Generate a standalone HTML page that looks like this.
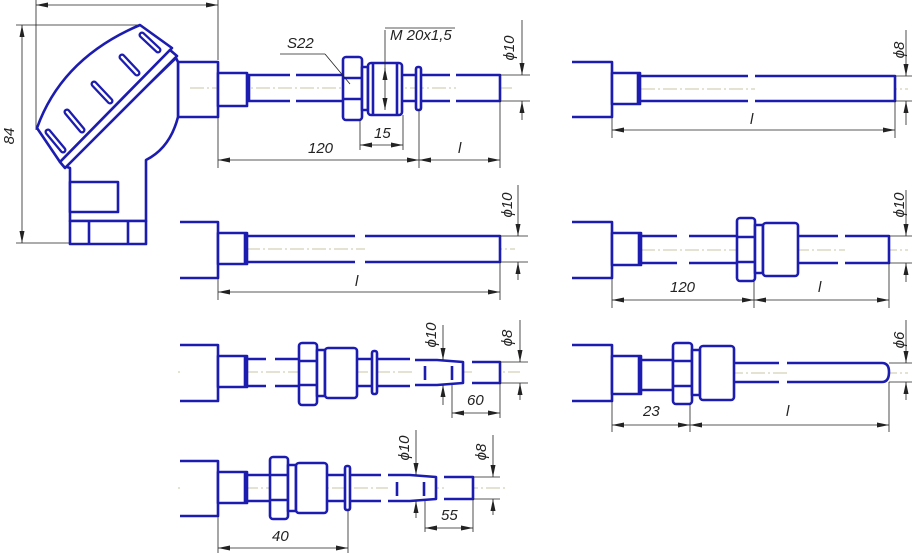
<!DOCTYPE html>
<html><head><meta charset="utf-8"><style>
html,body{margin:0;padding:0;background:#fff;}
svg{display:block}
.b{fill:#fff;stroke:#1c1cb0;stroke-width:2.6;stroke-linejoin:round}
.bn{fill:none;stroke:#1c1cb0;stroke-width:2.6}
.t{fill:none;stroke:#222;stroke-width:0.8}
.c{fill:none;stroke:#b9b38a;stroke-width:0.8;stroke-dasharray:14 3 2 3}
.sl{fill:none;stroke:#1c1cb0;stroke-width:7;stroke-linecap:round}
.sw{fill:none;stroke:#fff;stroke-width:2.4;stroke-linecap:round}
text{font-family:"Liberation Sans",sans-serif;font-style:italic;font-size:15px;fill:#222}
</style></head><body>
<svg width="912" height="557" viewBox="0 0 912 557" xmlns="http://www.w3.org/2000/svg">
<defs>
<marker id="a" viewBox="0 0 12 6" refX="12" refY="3" markerWidth="12" markerHeight="6" orient="auto-start-reverse" markerUnits="userSpaceOnUse"><path d="M0,0.5 L12,3 L0,5.5z" fill="#222"/></marker>
</defs>

<!-- ===== HEAD ===== -->
<line class="t" x1="36" y1="5" x2="218" y2="5" marker-start="url(#a)" marker-end="url(#a)"/>
<line class="t" x1="36" y1="0" x2="36" y2="130"/>
<line class="t" x1="218" y1="0" x2="218" y2="60"/>
<line class="t" x1="22" y1="25" x2="22" y2="243" marker-start="url(#a)" marker-end="url(#a)"/>
<line class="t" x1="16" y1="25" x2="140" y2="25"/>
<line class="t" x1="16" y1="243" x2="75" y2="243"/>
<text transform="translate(14,136) rotate(-90)" text-anchor="middle">84</text>
<rect class="b" x="178" y="62" width="40" height="55"/>
<path class="b" d="M176,58 L178,62 L178,117 Q170,148 146,160 L146,221 L70,221 L70,168 L64,166 Z"/>
<rect class="b" x="70" y="182" width="48" height="30"/>
<rect class="b" x="70" y="221" width="76" height="23"/>
<line class="bn" x1="89" y1="221" x2="89" y2="244"/><line class="bn" x1="128" y1="221" x2="128" y2="244"/>
<path class="b" d="M37,128 Q62,58 140,25 L172,48 L60,162 Z"/>
<path class="b" d="M60,162 L170,50 L177,56 L65,168 Z"/>
<g>
<path class="sl" d="M48,132 L63,150"/><path class="sw" d="M48,132 L63,150"/>
<path class="sl" d="M67,112 L82,130"/><path class="sw" d="M67,112 L82,130"/>
<path class="sl" d="M94,84 L110,101"/><path class="sw" d="M94,84 L110,101"/>
<path class="sl" d="M122,57 L137,73"/><path class="sw" d="M122,57 L137,73"/>
<path class="sl" d="M142,35 L158,50"/><path class="sw" d="M142,35 L158,50"/>
</g>

<!-- ===== ROW1 LEFT ===== -->
<line class="c" x1="190" y1="88" x2="515" y2="88"/>
<rect class="b" x="218" y="73" width="29" height="33"/>
<path class="b" d="M247,75 L290,75 M296,75 L343,75 M247,101 L290,101 M296,101 L343,101"/>
<line class="bn" x1="249" y1="75" x2="249" y2="101"/>
<rect class="b" x="343" y="57" width="19" height="63" rx="3"/>
<line class="bn" x1="343" y1="78" x2="362" y2="78"/><line class="bn" x1="343" y1="99" x2="362" y2="99"/>
<rect class="b" x="362" y="67" width="6" height="43"/>
<rect class="b" x="368" y="63" width="34" height="52" rx="3"/>
<line class="bn" x1="373" y1="63" x2="373" y2="115"/><line class="bn" x1="397" y1="63" x2="397" y2="115"/>
<path class="b" d="M402,75 L450,75 M456,75 L500,75 L500,101 L456,101 M450,101 L402,101"/>
<rect class="b" x="416" y="67" width="5" height="43" rx="2"/>
<line class="t" x1="385" y1="30" x2="385" y2="110" marker-end="url(#a)"/><line class="t" x1="385" y1="70" x2="385" y2="68" marker-end="url(#a)"/>
<line class="t" x1="385" y1="28" x2="455" y2="28"/>
<text x="390" y="40">M 20x1,5</text>
<line class="t" x1="280" y1="54" x2="325" y2="54"/><line class="t" x1="325" y1="54" x2="350" y2="84"/>
<text x="287" y="48">S22</text>
<line class="t" x1="360" y1="120" x2="360" y2="150"/><line class="t" x1="403" y1="115" x2="403" y2="150"/>
<line class="t" x1="360" y1="145" x2="403" y2="145" marker-start="url(#a)" marker-end="url(#a)"/>
<text x="374" y="138">15</text>
<line class="t" x1="218" y1="117" x2="218" y2="168"/><line class="t" x1="419" y1="110" x2="419" y2="168"/><line class="t" x1="500" y1="101" x2="500" y2="168"/>
<line class="t" x1="218" y1="160" x2="419" y2="160" marker-start="url(#a)" marker-end="url(#a)"/>
<line class="t" x1="419" y1="160" x2="500" y2="160" marker-start="url(#a)" marker-end="url(#a)"/>
<text x="308" y="153">120</text><text x="458" y="153">l</text>
<line class="t" x1="500" y1="75" x2="530" y2="75"/><line class="t" x1="500" y1="101" x2="530" y2="101"/>
<line class="t" x1="522" y1="20" x2="522" y2="75" marker-end="url(#a)"/><line class="t" x1="522" y1="120" x2="522" y2="101" marker-end="url(#a)"/>
<text transform="translate(514,48) rotate(-90)" text-anchor="middle">ϕ10</text>

<!-- ===== ROW1 RIGHT ===== -->
<line class="c" x1="575" y1="89" x2="908" y2="89"/>
<path class="b" d="M572,62 L612,62 L612,117 L572,117"/>
<rect class="b" x="612" y="73" width="28" height="31"/>
<line class="bn" x1="638" y1="73" x2="638" y2="104"/>
<path class="b" d="M640,76 L748,76 M755,76 L895,76 L895,101 L755,101 M748,101 L640,101"/>
<line class="t" x1="612" y1="117" x2="612" y2="138"/><line class="t" x1="895" y1="101" x2="895" y2="138"/>
<line class="t" x1="612" y1="130" x2="895" y2="130" marker-start="url(#a)" marker-end="url(#a)"/>
<text x="750" y="124">l</text>
<line class="t" x1="895" y1="76" x2="912" y2="76"/><line class="t" x1="895" y1="101" x2="912" y2="101"/>
<line class="t" x1="906" y1="30" x2="906" y2="76" marker-end="url(#a)"/><line class="t" x1="906" y1="125" x2="906" y2="101" marker-end="url(#a)"/>
<text transform="translate(904,50) rotate(-90)" text-anchor="middle">ϕ8</text>

<!-- ===== ROW2 LEFT ===== -->
<line class="c" x1="180" y1="249" x2="515" y2="249"/>
<path class="b" d="M180,222 L218,222 L218,278 L180,278"/>
<rect class="b" x="218" y="233" width="29" height="31"/>
<line class="bn" x1="245" y1="233" x2="245" y2="264"/>
<path class="b" d="M247,236 L355,236 M365,236 L500,236 L500,262 L365,262 M355,262 L247,262"/>
<line class="t" x1="218" y1="278" x2="218" y2="300"/><line class="t" x1="500" y1="262" x2="500" y2="300"/>
<line class="t" x1="218" y1="292" x2="500" y2="292" marker-start="url(#a)" marker-end="url(#a)"/>
<text x="355" y="286">l</text>
<line class="t" x1="500" y1="236" x2="528" y2="236"/><line class="t" x1="500" y1="262" x2="528" y2="262"/>
<line class="t" x1="518" y1="185" x2="518" y2="236" marker-end="url(#a)"/><line class="t" x1="518" y1="280" x2="518" y2="262" marker-end="url(#a)"/>
<text transform="translate(512,205) rotate(-90)" text-anchor="middle">ϕ10</text>

<!-- ===== ROW2 RIGHT ===== -->
<line class="c" x1="575" y1="250" x2="908" y2="250"/>
<path class="b" d="M572,222 L612,222 L612,278 L572,278"/>
<rect class="b" x="612" y="233" width="29" height="32"/>
<line class="bn" x1="639" y1="233" x2="639" y2="265"/>
<path class="b" d="M641,236 L677,236 M689,236 L737,236 M641,263 L677,263 M689,263 L737,263"/>
<rect class="b" x="737" y="218" width="18" height="63" rx="3"/>
<line class="bn" x1="737" y1="237" x2="755" y2="237"/><line class="bn" x1="737" y1="262" x2="755" y2="262"/>
<rect class="b" x="755" y="225" width="8" height="48"/>
<rect class="b" x="763" y="223" width="35" height="53" rx="3"/>
<path class="b" d="M798,236 L838,236 M845,236 L889,236 L889,263 L845,263 M838,263 L798,263"/>
<line class="t" x1="612" y1="278" x2="612" y2="308"/><line class="t" x1="754" y1="281" x2="754" y2="308"/><line class="t" x1="889" y1="263" x2="889" y2="308"/>
<line class="t" x1="612" y1="300" x2="754" y2="300" marker-start="url(#a)" marker-end="url(#a)"/>
<line class="t" x1="754" y1="300" x2="889" y2="300" marker-start="url(#a)" marker-end="url(#a)"/>
<text x="670" y="292">120</text><text x="818" y="292">l</text>
<line class="t" x1="889" y1="236" x2="912" y2="236"/><line class="t" x1="889" y1="263" x2="912" y2="263"/>
<line class="t" x1="906" y1="190" x2="906" y2="236" marker-end="url(#a)"/><line class="t" x1="906" y1="282" x2="906" y2="263" marker-end="url(#a)"/>
<text transform="translate(904,205) rotate(-90)" text-anchor="middle">ϕ10</text>

<!-- ===== ROW3 LEFT ===== -->
<line class="c" x1="178" y1="372" x2="520" y2="372"/>
<path class="b" d="M180,345 L218,345 L218,401 L180,401"/>
<rect class="b" x="218" y="356" width="29" height="31"/>
<line class="bn" x1="245" y1="356" x2="245" y2="387"/>
<path class="b" d="M247,359 L266,359 M275,359 L299,359 M247,386 L266,386 M275,386 L299,386"/>
<rect class="b" x="299" y="343" width="18" height="62" rx="3"/>
<line class="bn" x1="299" y1="361" x2="317" y2="361"/><line class="bn" x1="299" y1="385" x2="317" y2="385"/>
<rect class="b" x="317" y="350" width="8" height="46"/>
<rect class="b" x="325" y="348" width="32" height="50" rx="3"/>
<path class="b" d="M357,359 L410,359 M357,386 L410,386"/>
<rect class="b" x="372" y="351" width="5" height="43" rx="2"/>
<path class="b" d="M415,360 L437,360 L463,362 L463,383 L437,385 L415,385"/>
<line class="bn" x1="425" y1="366" x2="425" y2="380"/><line class="bn" x1="452" y1="366" x2="452" y2="380"/>
<path class="b" d="M472,362 L500,362 L500,383 L472,383"/>
<line class="t" x1="443" y1="325" x2="443" y2="360" marker-end="url(#a)"/><line class="t" x1="443" y1="405" x2="443" y2="385" marker-end="url(#a)"/>
<text transform="translate(436,335) rotate(-90)" text-anchor="middle">ϕ10</text>
<line class="t" x1="500" y1="362" x2="528" y2="362"/><line class="t" x1="500" y1="383" x2="528" y2="383"/>
<line class="t" x1="520" y1="320" x2="520" y2="362" marker-end="url(#a)"/><line class="t" x1="520" y1="400" x2="520" y2="383" marker-end="url(#a)"/>
<text transform="translate(512,338) rotate(-90)" text-anchor="middle">ϕ8</text>
<line class="t" x1="452" y1="385" x2="452" y2="418"/><line class="t" x1="500" y1="383" x2="500" y2="418"/>
<line class="t" x1="452" y1="413" x2="500" y2="413" marker-start="url(#a)" marker-end="url(#a)"/>
<text x="467" y="405">60</text>

<!-- ===== ROW3 RIGHT ===== -->
<line class="c" x1="575" y1="373" x2="908" y2="373"/>
<path class="b" d="M572,345 L612,345 L612,401 L572,401"/>
<rect class="b" x="612" y="356" width="29" height="38"/>
<line class="bn" x1="639" y1="356" x2="639" y2="394"/>
<rect class="b" x="641" y="360" width="32" height="30"/>
<rect class="b" x="673" y="343" width="19" height="61" rx="3"/>
<line class="bn" x1="673" y1="361" x2="692" y2="361"/><line class="bn" x1="673" y1="386" x2="692" y2="386"/>
<rect class="b" x="692" y="350" width="8" height="45"/>
<rect class="b" x="700" y="346" width="34" height="54" rx="3"/>
<path class="b" d="M734,363 L779,363 M787,363 L882,363 Q889,363 889,372 Q889,382 882,382 L787,382 M779,382 L734,382"/>
<line class="t" x1="612" y1="401" x2="612" y2="432"/><line class="t" x1="690" y1="404" x2="690" y2="432"/><line class="t" x1="889" y1="382" x2="889" y2="432"/>
<line class="t" x1="612" y1="425" x2="690" y2="425" marker-start="url(#a)" marker-end="url(#a)"/>
<line class="t" x1="690" y1="425" x2="889" y2="425" marker-start="url(#a)" marker-end="url(#a)"/>
<text x="643" y="416">23</text><text x="786" y="416">l</text>
<line class="t" x1="889" y1="363" x2="912" y2="363"/><line class="t" x1="889" y1="382" x2="912" y2="382"/>
<line class="t" x1="906" y1="320" x2="906" y2="363" marker-end="url(#a)"/><line class="t" x1="906" y1="400" x2="906" y2="382" marker-end="url(#a)"/>
<text transform="translate(904,340) rotate(-90)" text-anchor="middle">ϕ6</text>

<!-- ===== ROW4 ===== -->
<line class="c" x1="178" y1="488" x2="505" y2="488"/>
<path class="b" d="M180,461 L218,461 L218,516 L180,516"/>
<rect class="b" x="218" y="472" width="29" height="31"/>
<line class="bn" x1="245" y1="472" x2="245" y2="503"/>
<path class="b" d="M247,475 L270,475 M247,501 L270,501"/>
<rect class="b" x="270" y="457" width="18" height="62" rx="3"/>
<line class="bn" x1="270" y1="475" x2="288" y2="475"/><line class="bn" x1="270" y1="500" x2="288" y2="500"/>
<rect class="b" x="288" y="465" width="8" height="46"/>
<rect class="b" x="296" y="463" width="31" height="50" rx="3"/>
<path class="b" d="M327,475 L381,475 M327,501 L381,501"/>
<rect class="b" x="345" y="466" width="5" height="44" rx="2"/>
<path class="b" d="M388,475 L410,475 L436,477 L436,499 L410,501 L388,501"/>
<line class="bn" x1="397" y1="482" x2="397" y2="496"/><line class="bn" x1="424" y1="482" x2="424" y2="496"/>
<path class="b" d="M444,477 L473,477 L473,499 L444,499"/>
<line class="t" x1="416" y1="430" x2="416" y2="475" marker-end="url(#a)"/><line class="t" x1="416" y1="518" x2="416" y2="501" marker-end="url(#a)"/>
<text transform="translate(409,448) rotate(-90)" text-anchor="middle">ϕ10</text>
<line class="t" x1="473" y1="477" x2="500" y2="477"/><line class="t" x1="473" y1="499" x2="500" y2="499"/>
<line class="t" x1="493" y1="435" x2="493" y2="477" marker-end="url(#a)"/><line class="t" x1="493" y1="515" x2="493" y2="499" marker-end="url(#a)"/>
<text transform="translate(486,452) rotate(-90)" text-anchor="middle">ϕ8</text>
<line class="t" x1="425" y1="501" x2="425" y2="532"/><line class="t" x1="473" y1="499" x2="473" y2="532"/>
<line class="t" x1="425" y1="528" x2="473" y2="528" marker-start="url(#a)" marker-end="url(#a)"/>
<text x="441" y="520">55</text>
<line class="t" x1="218" y1="516" x2="218" y2="553"/><line class="t" x1="348" y1="510" x2="348" y2="553"/>
<line class="t" x1="218" y1="548" x2="348" y2="548" marker-start="url(#a)" marker-end="url(#a)"/>
<text x="272" y="541">40</text>
</svg>
</body></html>
